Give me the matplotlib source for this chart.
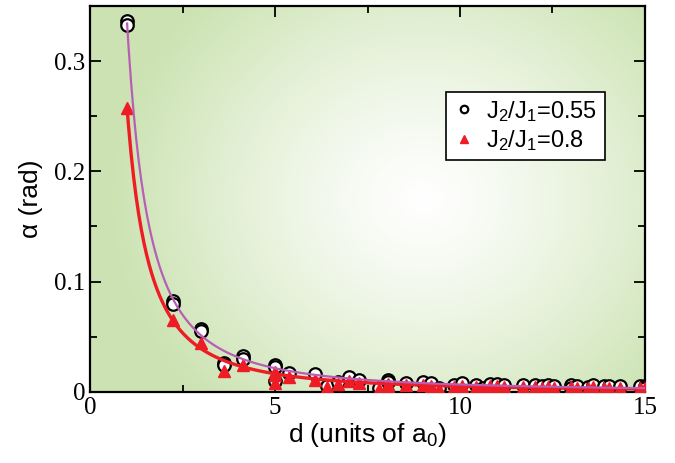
import numpy as np
import matplotlib
matplotlib.use("Agg")
import matplotlib.pyplot as plt
from matplotlib.ticker import MultipleLocator

plt.rcParams["mathtext.fontset"] = "custom"
plt.rcParams["mathtext.rm"] = "Liberation Sans"
plt.rcParams["mathtext.it"] = "Liberation Sans"

# separation d (units of a0) and angle alpha (rad)
d_055 = [1.0, 1.0, 2.24, 2.24, 3.0, 3.0, 3.61, 3.61, 4.12, 4.12, 5.0, 5.0, 5.0,
         5.39, 6.08, 6.40, 6.71, 7.0, 7.28, 7.81, 8.06, 8.06, 8.54, 9.0, 9.22,
         9.43, 9.85, 10.05, 10.44, 10.63, 10.82, 11.0, 11.18, 11.70, 12.04,
         12.21, 12.37, 12.53, 13.0, 13.0, 13.15, 13.45, 13.60, 13.89, 14.04,
         14.32, 14.87, 15.0, 15.0]
a_055 = [0.336, 0.333, 0.082, 0.080, 0.057, 0.055, 0.026, 0.024, 0.032, 0.030,
         0.024, 0.022, 0.010, 0.017, 0.016, 0.005, 0.009, 0.013, 0.011, 0.003,
         0.011, 0.009, 0.008, 0.009, 0.008, 0.003, 0.006, 0.008, 0.006, 0.003,
         0.007, 0.007, 0.006, 0.006, 0.006, 0.005, 0.006, 0.005, 0.006, 0.003,
         0.005, 0.004, 0.006, 0.005, 0.005, 0.005, 0.005, 0.005, 0.003]

d_08 = [1.0, 2.24, 3.0, 3.61, 4.12, 5.0, 5.0, 5.0, 5.39, 6.08, 6.40, 6.71, 7.0,
        7.28, 7.81, 8.06, 8.06, 8.54, 9.0, 9.22, 9.43, 9.85, 10.05, 10.44,
        10.63, 10.82, 11.0, 11.18, 11.70, 12.04, 12.21, 12.37, 12.53, 13.0,
        13.0, 13.15, 13.45, 13.60, 13.89, 14.04, 14.32, 14.87, 15.0, 15.0]
a_08 = [0.257, 0.065, 0.044, 0.019, 0.024, 0.018, 0.015, 0.008, 0.013, 0.011,
        0.004, 0.007, 0.010, 0.008, 0.002, 0.007, 0.005, 0.006, 0.006, 0.005,
        0.002, 0.004, 0.005, 0.004, 0.002, 0.005, 0.005, 0.004, 0.004, 0.004,
        0.003, 0.004, 0.003, 0.004, 0.002, 0.003, 0.003, 0.004, 0.003, 0.003,
        0.003, 0.003, 0.003, 0.002]

labels = [r"J$_2$/J$_1$=0.55", r"J$_2$/J$_1$=0.8"]
x_ticks = [0, 5, 10, 15]
y_ticks = [0, 0.1, 0.2, 0.3]
y_tick_labels = ["0", "0.1", "0.2", "0.3"]


def power_fit(d, a):
    # weighted log-log fit, alpha ~ A / d^n
    d = np.asarray(d)
    a = np.asarray(a)
    slope, icpt = np.polyfit(np.log(d), np.log(a), 1, w=a)
    xs = np.linspace(d.min(), d.max(), 400)
    return xs, np.exp(icpt) * xs ** slope


fig = plt.figure(figsize=(6.75, 4.63), dpi=100)
ax = fig.add_axes([0.1335, 0.154, 0.822, 0.833])

# radial green -> white background
ny, nx = 300, 400
gx, gy = np.meshgrid(np.linspace(0, 1, nx), np.linspace(0, 1, ny))
r = np.sqrt(((gx - 0.6) / 0.56) ** 2 + ((gy - 0.5) / 0.72) ** 2)
t = np.clip(r, 0, 1) ** 1.25
green = np.array([0.80, 0.89, 0.70])
img = (1 - t)[..., None] * np.ones(3) + t[..., None] * green
ax.imshow(img, extent=[0, 1, 0, 1], transform=ax.transAxes, origin="lower",
          aspect="auto", zorder=0, interpolation="bilinear")

xs1, ys1 = power_fit(d_055, a_055)
xs2, ys2 = power_fit(d_08, a_08)

ax.plot(d_055, a_055, "o", ms=9, mfc="white", mec="black", mew=1.6,
        zorder=3, label=labels[0])
ax.plot(d_08, a_08, "^", ms=9, color="#ee1c25", mec="#ee1c25", zorder=4,
        label=labels[1])
ax.plot(xs1, ys1, color="#b65fb4", lw=1.6, zorder=5)
ax.plot(xs2, ys2, color="#ee1c25", lw=2.4, zorder=4.5)

ax.set_xlim(0, 15)
ax.set_ylim(0, 0.35)
ax.set_xticks(x_ticks)
ax.set_xticklabels([str(v) for v in x_ticks], fontfamily="Liberation Serif")
ax.set_yticks(y_ticks)
ax.set_yticklabels(y_tick_labels, fontfamily="Liberation Serif")
ax.xaxis.set_minor_locator(MultipleLocator(2.5))
ax.yaxis.set_minor_locator(MultipleLocator(0.05))
ax.tick_params(which="both", direction="in", top=True, right=True, width=1.3,
               labelsize=18)
ax.tick_params(which="major", length=8)
ax.tick_params(which="minor", length=5)
for sp in ax.spines.values():
    sp.set_linewidth(1.6)

ax.set_xlabel(r"d (units of a$_0$)", family="Liberation Sans", fontsize=19,
              labelpad=2)
ax.set_ylabel("α (rad)", family="Liberation Sans", fontsize=19, labelpad=8)

leg = ax.legend(loc="upper left", bbox_to_anchor=(0.642, 0.778), frameon=True,
                fancybox=False, edgecolor="black", facecolor="white",
                framealpha=1, prop={"family": "Liberation Sans", "size": 17},
                markerscale=0.6, handlelength=0.9, handletextpad=0.5,
                borderpad=0.3, labelspacing=0.2, borderaxespad=0)
leg.get_frame().set_linewidth(1.2)

fig.savefig("out.png", dpi=100)
